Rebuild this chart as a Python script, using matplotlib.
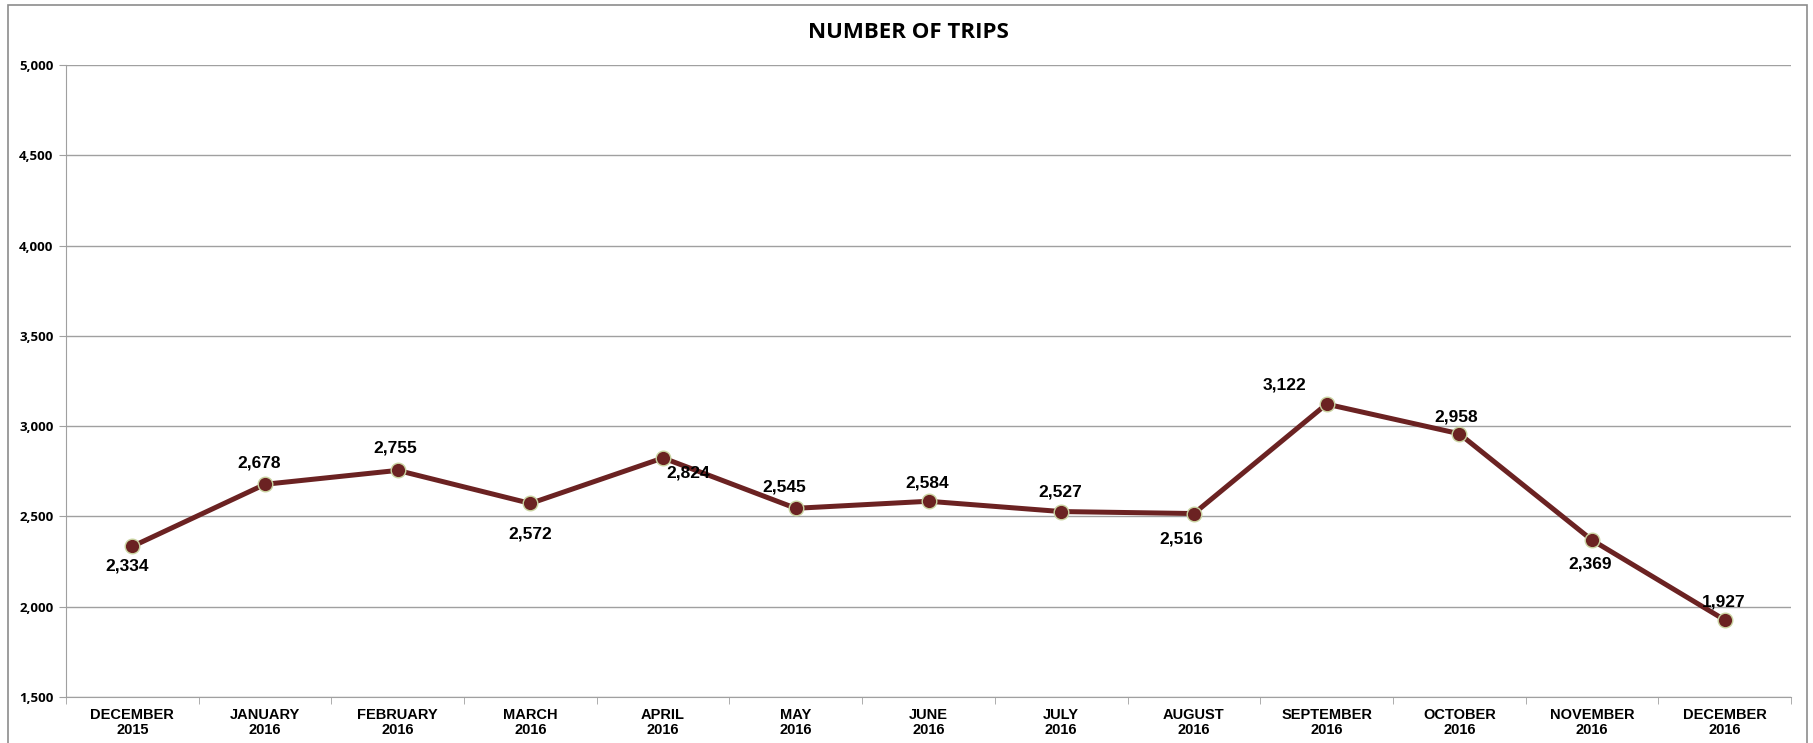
import matplotlib
matplotlib.use("Agg")
from matplotlib import pyplot as plt
from matplotlib.patches import Rectangle

months = ["DECEMBER\n2015", "JANUARY\n2016", "FEBRUARY\n2016", "MARCH\n2016", "APRIL\n2016",
          "MAY\n2016", "JUNE\n2016", "JULY\n2016", "AUGUST\n2016", "SEPTEMBER\n2016",
          "OCTOBER\n2016", "NOVEMBER\n2016", "DECEMBER\n2016"]
trips = [2334, 2678, 2755, 2572, 2824, 2545, 2584, 2527, 2516, 3122, 2958, 2369, 1927]
y_ticks = [1500, 2000, 2500, 3000, 3500, 4000, 4500, 5000]

# label offsets in points (dx, dy)
offsets = [(-4, -14), (-4, 15), (-2, 16), (0, -22), (18, -11), (-8, 15), (-1, 13),
           (-1, 14), (-9, -18), (-30, 14), (-2, 12), (-1, -17), (-1, 13)]

fig = plt.figure(figsize=(18.13, 7.43), dpi=100)
ax = fig.add_axes([66 / 1813, 1 - 697 / 743, (1791 - 66) / 1813, (697 - 65) / 743])

fig.patches.append(Rectangle((8 / 1813, -0.01), (1807 - 8) / 1813, 1 - 5 / 743 + 0.01,
                             transform=fig.transFigure, fill=False,
                             edgecolor="#8c8c8c", linewidth=1.2))

x = list(range(len(trips)))
ax.plot(x, trips, color="#6b2222", linewidth=3.6, marker="o", markersize=10.5,
        markerfacecolor="#6b2222", markeredgecolor="#c9d3a0", markeredgewidth=1, zorder=3)

for i, v in enumerate(trips):
    ax.annotate(f"{v:,}", (i, v), xytext=offsets[i], textcoords="offset points",
                ha="center", va="center", fontsize=12.5, fontweight="bold",
                family="Liberation Sans", zorder=4)

ax.set_xlim(-0.5, len(trips) - 0.5)
ax.set_ylim(1500, 5000)
ax.set_yticks(y_ticks)
ax.set_yticklabels([f"{t:,}" for t in y_ticks], fontsize=9.5, fontweight="bold", family="Open Sans")
ax.set_xticks(x)
ax.set_xticklabels(months, fontsize=10.5, fontweight="bold", family="Liberation Sans", linespacing=1.1)
ax.set_xticks([i - 0.5 for i in range(len(trips) + 1)], minor=True)

ax.grid(True, axis="y", color="#a0a0a0", linewidth=1)
ax.set_axisbelow(True)
for side in ["top", "right"]:
    ax.spines[side].set_visible(False)
for side in ["left", "bottom"]:
    ax.spines[side].set_color("#a0a0a0")
ax.tick_params(axis="x", which="major", length=0, pad=8)
ax.tick_params(axis="x", which="minor", length=5, color="#a0a0a0")
ax.tick_params(axis="y", length=5, color="#a0a0a0", pad=4)

fig.text(908 / 1813, 1 - 32 / 743, "NUMBER OF TRIPS", ha="center", va="center",
         fontsize=16, fontweight="bold", family="Open Sans")

plt.savefig("out.png", format="png", dpi=100)
